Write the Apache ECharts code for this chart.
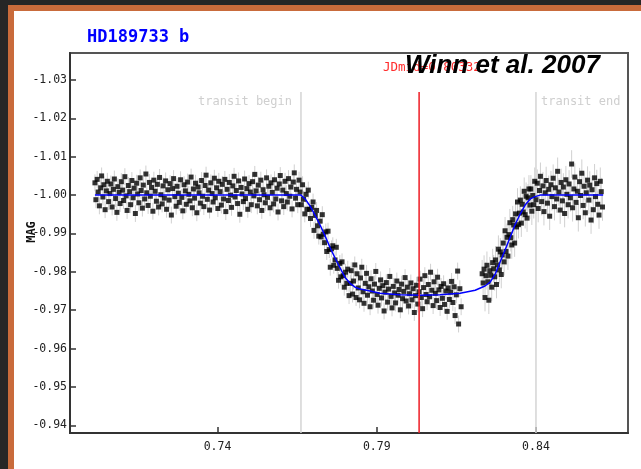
<!DOCTYPE html>
<html><head><meta charset="utf-8">
<script src="https://cdn.jsdelivr.net/npm/echarts@6/dist/echarts.min.js"></script>
<style>html,body{margin:0;padding:0;background:#fff;}#chart{width:641px;height:469px;}</style>
</head><body><div id="chart"></div>
<script>
// Observation times (fraction of day) and magnitudes
const times = [
0.7015,0.7018,0.7022,0.7025,0.7029,0.7033,0.7036,0.7040,0.7043,0.7047,0.7051,0.7054,0.7058,0.7062,0.7065,0.7069,0.7073,0.7076,0.7080,0.7084,
0.7087,0.7091,0.7094,0.7098,0.7102,0.7105,0.7109,0.7113,0.7116,0.7120,0.7124,0.7127,0.7131,0.7135,0.7138,0.7142,0.7146,0.7149,0.7153,0.7157,
0.7160,0.7164,0.7167,0.7171,0.7175,0.7178,0.7182,0.7186,0.7189,0.7193,0.7197,0.7200,0.7204,0.7208,0.7211,0.7215,0.7218,0.7222,0.7226,0.7229,
0.7233,0.7237,0.7240,0.7244,0.7248,0.7251,0.7255,0.7259,0.7262,0.7266,0.7270,0.7273,0.7277,0.7280,0.7284,0.7288,0.7291,0.7295,0.7299,0.7302,
0.7306,0.7310,0.7313,0.7317,0.7321,0.7324,0.7328,0.7331,0.7335,0.7339,0.7342,0.7346,0.7350,0.7353,0.7357,0.7361,0.7364,0.7368,0.7372,0.7375,
0.7379,0.7383,0.7386,0.7390,0.7393,0.7397,0.7401,0.7404,0.7408,0.7412,0.7415,0.7419,0.7423,0.7426,0.7430,0.7434,0.7437,0.7441,0.7444,0.7448,
0.7452,0.7455,0.7459,0.7463,0.7466,0.7470,0.7474,0.7477,0.7481,0.7485,0.7488,0.7492,0.7495,0.7499,0.7503,0.7506,0.7510,0.7514,0.7517,0.7521,
0.7525,0.7528,0.7532,0.7536,0.7539,0.7543,0.7546,0.7550,0.7554,0.7557,0.7561,0.7565,0.7568,0.7572,0.7576,0.7579,0.7583,0.7587,0.7590,0.7594,
0.7597,0.7601,0.7605,0.7608,0.7612,0.7616,0.7619,0.7623,0.7627,0.7630,0.7634,0.7638,0.7641,0.7645,0.7648,0.7652,0.7656,0.7659,
0.7663,0.7667,0.7670,0.7674,0.7678,0.7681,0.7685,0.7689,0.7692,0.7696,0.7700,0.7703,0.7707,0.7711,0.7714,0.7718,0.7722,0.7725,0.7729,0.7732,
0.7736,0.7740,0.7743,0.7747,0.7751,0.7754,0.7758,0.7762,0.7765,0.7769,0.7773,0.7776,0.7780,0.7784,0.7787,0.7791,0.7795,0.7798,0.7802,0.7806,
0.7809,0.7813,0.7817,
0.7820,0.7824,0.7827,0.7831,0.7835,0.7838,0.7842,0.7846,0.7849,0.7853,0.7857,0.7860,0.7864,0.7868,0.7871,0.7875,0.7879,0.7882,0.7886,0.7890,
0.7893,0.7897,0.7901,0.7904,0.7908,0.7912,0.7915,0.7919,0.7923,0.7926,0.7930,0.7934,0.7937,0.7941,0.7945,0.7948,0.7952,0.7956,0.7959,0.7963,
0.7967,0.7970,0.7974,0.7978,0.7981,0.7985,0.7989,0.7992,0.7996,0.8000,0.8003,0.8007,0.8011,0.8014,0.8018,0.8022,0.8025,0.8029,0.8033,0.8036,
0.8040,0.8044,0.8047,0.8051,0.8055,0.8058,0.8062,0.8066,0.8069,0.8073,0.8077,0.8080,0.8084,0.8088,0.8091,0.8095,0.8099,0.8102,0.8106,0.8110,
0.8113,0.8117,0.8121,0.8124,0.8128,0.8132,0.8135,0.8139,0.8143,0.8146,0.8150,0.8154,0.8157,0.8161,0.8165,
0.8231,0.8234,0.8237,0.8240,0.8243,0.8246,0.8249,0.8252,0.8255,0.8258,0.8261,0.8264,0.8267,0.8270,0.8273,0.8276,0.8279,0.8282,0.8285,0.8288,
0.8291,0.8294,0.8297,0.8300,0.8303,0.8306,0.8309,0.8312,0.8315,0.8318,0.8321,0.8324,0.8327,0.8330,0.8333,0.8336,0.8339,0.8342,0.8345,0.8348,
0.8351,0.8354,0.8357,0.8360,0.8363,0.8366,0.8369,0.8372,0.8375,0.8378,0.8381,0.8384,0.8387,0.8390,0.8393,0.8396,
0.8400,0.8404,0.8407,0.8411,0.8414,0.8418,0.8422,0.8425,0.8429,0.8432,0.8436,0.8440,0.8443,0.8447,0.8450,0.8454,0.8458,0.8461,0.8465,0.8468,
0.8472,0.8476,0.8479,0.8483,0.8486,0.8490,0.8494,0.8497,0.8501,0.8504,0.8508,0.8512,0.8515,0.8519,0.8522,0.8526,0.8530,0.8533,0.8537,0.8540,
0.8544,0.8548,0.8551,0.8555,0.8558,0.8562,0.8566,0.8569,0.8573,0.8576,0.8580,0.8584,0.8587,0.8591,0.8594,0.8598,0.8602,0.8605,0.8609
];
const mags = [
-1.0032,-0.9988,-1.0041,-1.0008,-0.9972,-1.0019,-1.0050,-0.9995,-1.0027,-0.9962,-1.0011,-1.0036,-0.9983,-1.0004,-1.0029,-0.9969,-1.0015,-1.0042,-0.9991,-0.9955,
-1.0022,-1.0007,-0.9978,-1.0035,-1.0013,-0.9986,-1.0048,-0.9998,-0.9960,-1.0025,-1.0009,-0.9975,-1.0038,-0.9993,-1.0018,-0.9952,-1.0031,-1.0003,-0.9980,-1.0045,
-1.0012,-0.9966,-1.0026,-0.9990,-1.0055,-1.0006,-0.9973,-1.0033,-0.9997,-1.0020,-0.9958,-1.0039,-1.0010,-0.9984,-1.0028,-0.9969,-1.0046,-1.0001,-0.9977,-1.0024,
-0.9992,-1.0037,-0.9963,-1.0014,-0.9987,-1.0030,-0.9948,-1.0017,-1.0043,-0.9996,-0.9971,-1.0023,-1.0005,-0.9981,-1.0040,-0.9994,-0.9959,-1.0027,-1.0011,-0.9976,
-1.0034,-1.0002,-0.9985,-1.0047,-0.9967,-1.0016,-0.9992,-1.0031,-0.9954,-1.0021,-1.0006,-0.9979,-1.0038,-0.9997,-0.9970,-1.0025,-1.0052,-0.9989,-1.0013,-0.9961,
-1.0032,-1.0004,-0.9982,-1.0044,-0.9993,-1.0019,-0.9965,-1.0036,-1.0009,-0.9974,-1.0028,-0.9990,-1.0041,-0.9957,-1.0015,-0.9986,-1.0033,-1.0000,-0.9968,-1.0024,
-1.0049,-0.9995,-1.0012,-0.9978,-1.0037,-0.9950,-1.0020,-1.0003,-0.9983,-1.0042,-0.9991,-1.0017,-0.9963,-1.0030,-1.0008,-0.9975,-1.0035,-0.9998,-1.0054,-1.0011,
-0.9972,-1.0026,-0.9988,-1.0039,-0.9960,-1.0014,-1.0001,-0.9980,-1.0045,-0.9994,-1.0023,-0.9967,-1.0032,-1.0007,-0.9977,-1.0040,-0.9990,-1.0018,-0.9956,-1.0029,
-1.0051,-0.9985,-1.0013,-0.9970,-1.0036,-1.0004,-0.9982,-1.0043,-0.9997,-1.0021,-0.9964,-1.0034,-1.0058,-0.9992,-1.0015,-0.9975,-1.0039,-1.0008,
-0.9975,-1.0027,-0.9989,-0.9951,-1.0002,-0.9963,-1.0013,-0.9963,-0.9939,-0.9968,-0.9982,-0.9908,-0.9947,-0.9960,-0.9920,-0.9893,-0.9932,-0.9891,-0.9949,-0.9898,
-0.9876,-0.9904,-0.9853,-0.9906,-0.9858,-0.9812,-0.9860,-0.9868,-0.9817,-0.9831,-0.9864,-0.9809,-0.9778,-0.9822,-0.9787,-0.9826,-0.9790,-0.9760,-0.9799,-0.9770,
-0.9807,-0.9738,-0.9770,
-0.9803,-0.9742,-0.9776,-0.9818,-0.9733,-0.9795,-0.9758,-0.9727,-0.9784,-0.9812,-0.9748,-0.9718,-0.9770,-0.9796,-0.9739,-0.9761,-0.9709,-0.9782,-0.9750,-0.9726,
-0.9768,-0.9801,-0.9741,-0.9713,-0.9757,-0.9779,-0.9732,-0.9764,-0.9698,-0.9747,-0.9772,-0.9721,-0.9755,-0.9788,-0.9736,-0.9706,-0.9762,-0.9745,-0.9719,-0.9776,
-0.9739,-0.9754,-0.9701,-0.9768,-0.9730,-0.9749,-0.9785,-0.9724,-0.9760,-0.9711,-0.9743,-0.9771,-0.9727,-0.9756,-0.9694,-0.9738,-0.9765,-0.9716,-0.9748,-0.9781,
-0.9733,-0.9704,-0.9759,-0.9790,-0.9741,-0.9722,-0.9767,-0.9735,-0.9799,-0.9752,-0.9712,-0.9774,-0.9744,-0.9725,-0.9786,-0.9753,-0.9707,-0.9762,-0.9731,-0.9769,
-0.9715,-0.9750,-0.9697,-0.9758,-0.9728,-0.9747,-0.9775,-0.9720,-0.9761,-0.9686,-0.9740,-0.9802,-0.9664,-0.9756,-0.9709,
-0.9795,-0.9771,-0.9807,-0.9733,-0.9790,-0.9817,-0.9774,-0.9726,-0.9803,-0.9791,-0.9760,-0.9824,-0.9808,-0.9787,-0.9831,-0.9767,-0.9818,-0.9859,-0.9805,-0.9852,
-0.9793,-0.9844,-0.9875,-0.9826,-0.9907,-0.9853,-0.9890,-0.9841,-0.9897,-0.9928,-0.9889,-0.9870,-0.9936,-0.9922,-0.9875,-0.9951,-0.9917,-0.9982,-0.9923,-0.9953,
-0.9987,-0.9927,-0.9976,-0.9956,-1.0010,-0.9949,-0.9997,-0.9940,-0.9993,-1.0016,-0.9974,-1.0016,-0.9958,-0.9999,-0.9975,-1.0036,
-0.9988,-1.0031,-0.9965,-1.0012,-1.0049,-0.9983,-1.0024,-0.9957,-1.0006,-1.0038,-0.9979,-1.0015,-0.9945,-1.0027,-0.9996,-1.0044,-0.9970,-1.0019,-0.9990,-1.0062,
-1.0008,-0.9961,-1.0033,-0.9985,-1.0021,-0.9952,-1.0040,-1.0002,-0.9975,-1.0029,-0.9993,-1.0081,-0.9967,-1.0016,-1.0047,-0.9981,-1.0010,-0.9941,-1.0035,-0.9999,
-1.0057,-0.9973,-1.0023,-0.9954,-1.0006,-1.0039,-0.9987,-1.0026,-0.9935,-1.0014,-0.9962,-1.0045,-0.9996,-1.0030,-0.9976,-0.9948,-1.0036,-1.0009,-0.9969
];
// Transit model curve
const modelTimes = [0.7015,0.7662,0.7675,0.7691,0.7706,0.7722,0.7738,0.7753,0.7769,0.7785,0.7800,0.7816,0.7832,0.7848,0.7879,0.7910,0.7973,0.8036,0.8099,0.8162,0.8209,0.8240,0.8256,0.8272,0.8287,0.8303,0.8319,0.8334,0.8350,0.8366,0.8382,0.8397,0.8413,0.8611];
const modelMags  = [-1.0000,-1.0000,-0.9990,-0.9971,-0.9948,-0.9922,-0.9893,-0.9864,-0.9836,-0.9810,-0.9786,-0.9770,-0.9760,-0.9755,-0.9750,-0.9744,-0.9740,-0.9739,-0.9740,-0.9744,-0.9752,-0.9763,-0.9773,-0.9794,-0.9825,-0.9857,-0.9890,-0.9922,-0.9950,-0.9974,-0.9990,-0.9996,-1.0000,-1.0000];
// Axis ticks
const xTicks = [0.74, 0.79, 0.84];
const yTicks = [-1.03,-1.02,-1.01,-1.00,-0.99,-0.98,-0.97,-0.96,-0.95,-0.94];
// Transit markers
const transitBegin = 0.7662, transitMid = 0.8033, transitEnd = 0.8400;
const markerTop = -1.0269;
// Error bar half-lengths
const errBreak = 0.8200, errLow = 0.0022, errHigh = 0.0036;

const X_MIN = 0.69367, X_MAX = 0.8689, Y_MIN = -1.03704, Y_MAX = -0.93799;

const points = times.map((t, i) => [t, mags[i]]);
const errData = times.map((t, i) => [t, mags[i], t < errBreak ? errLow : errHigh]);
const model = modelTimes.map((t, i) => [t, modelMags[i]]);
const vline = x => [[x, markerTop], [x, Y_MAX]];

const mono = '"DejaVu Sans Mono", monospace';
const chart = echarts.init(document.getElementById('chart'), null, {renderer: 'canvas'});
chart.setOption({
  animation: false,
  backgroundColor: '#ffffff',
  grid: {left: 70, right: 13, top: 53, bottom: 36, show: true, borderColor: '#555', borderWidth: 2, backgroundColor: '#fff'},
  xAxis: {
    type: 'value', min: X_MIN, max: X_MAX,
    axisLine: {show: true, onZero: false, lineStyle: {color: '#333', width: 2}},
    axisTick: {show: true, inside: true, length: 6, customValues: xTicks, lineStyle: {color: '#333', width: 1.5}},
    axisLabel: {customValues: xTicks, formatter: v => v.toFixed(2), fontFamily: mono, fontSize: 11.5, color: '#222', margin: 8},
    splitLine: {show: false}
  },
  yAxis: {
    type: 'value', inverse: true, min: Y_MIN, max: Y_MAX,
    axisLine: {show: true, onZero: false, lineStyle: {color: '#333', width: 2}},
    axisTick: {show: true, inside: true, length: 6, customValues: yTicks, lineStyle: {color: '#333', width: 1.5}},
    axisLabel: {customValues: yTicks, formatter: v => v.toFixed(2), fontFamily: mono, fontSize: 11.5, color: '#222', margin: 3},
    splitLine: {show: false}
  },
  series: [
    {type: 'line', data: vline(transitBegin), symbol: 'none', lineStyle: {color: '#d4d4d4', width: 1.5}, z: 1, silent: true},
    {type: 'line', data: vline(transitEnd), symbol: 'none', lineStyle: {color: '#d4d4d4', width: 1.5}, z: 1, silent: true},
    {
      type: 'custom', z: 2, silent: true, data: errData,
      renderItem: (params, api) => {
        const x = api.value(0), y = api.value(1), e = api.value(2);
        const p1 = api.coord([x, y - e]), p2 = api.coord([x, y + e]);
        return {type: 'line', shape: {x1: p1[0], y1: p1[1], x2: p2[0], y2: p2[1]}, style: {stroke: '#d0d0d0', lineWidth: 1}};
      }
    },
    {type: 'scatter', data: points, symbol: 'rect', symbolSize: 5, itemStyle: {color: '#000'}, z: 3, silent: true},
    {type: 'line', data: model, symbol: 'none', lineStyle: {color: '#0000ff', width: 1.5}, z: 4, silent: true},
    {type: 'line', data: vline(transitMid), symbol: 'none', lineStyle: {color: '#ee1c24', width: 1.5}, z: 5, silent: true}
  ],
  graphic: [
    {type: 'rect', shape: {x: 0, y: 0, width: 641, height: 5}, style: {fill: '#262626'}, z: 100},
    {type: 'rect', shape: {x: 0, y: 0, width: 8, height: 469}, style: {fill: '#262626'}, z: 100},
    {type: 'rect', shape: {x: 8, y: 5, width: 633, height: 6}, style: {fill: '#c96b3b'}, z: 100},
    {type: 'rect', shape: {x: 8, y: 5, width: 6, height: 464}, style: {fill: '#c96b3b'}, z: 100},
    {type: 'text', left: 87, top: 29, style: {text: 'HD189733 b', fill: '#0000ff', font: 'bold 17px "DejaVu Sans Mono", monospace'}, z: 100},
    {type: 'text', x: 32, y: 232, rotation: Math.PI / 2, style: {text: 'MAG', fill: '#111', font: 'bold 12px "DejaVu Sans Mono", monospace', align: 'center', verticalAlign: 'middle'}, z: 100},
    {type: 'text', x: 292, y: 102, style: {text: 'transit begin', fill: '#cfcfcf', font: '12px "DejaVu Sans Mono", monospace', align: 'right', verticalAlign: 'middle'}, z: 100},
    {type: 'text', x: 541, y: 102, style: {text: 'transit end', fill: '#cfcfcf', font: '12px "DejaVu Sans Mono", monospace', align: 'left', verticalAlign: 'middle'}, z: 100},
    {type: 'text', x: 383, y: 68, style: {text: 'JDmid=0.80332', fill: '#ff2a2a', font: '12.5px "DejaVu Sans Mono", monospace', align: 'left', verticalAlign: 'middle'}, z: 100},
    {type: 'text', x: 405, y: 66, style: {text: 'Winn et al. 2007', fill: '#000', font: 'italic bold 26px "Liberation Sans", Arial, sans-serif', align: 'left', verticalAlign: 'middle'}, z: 101}
  ]
});
</script>
</body></html>
